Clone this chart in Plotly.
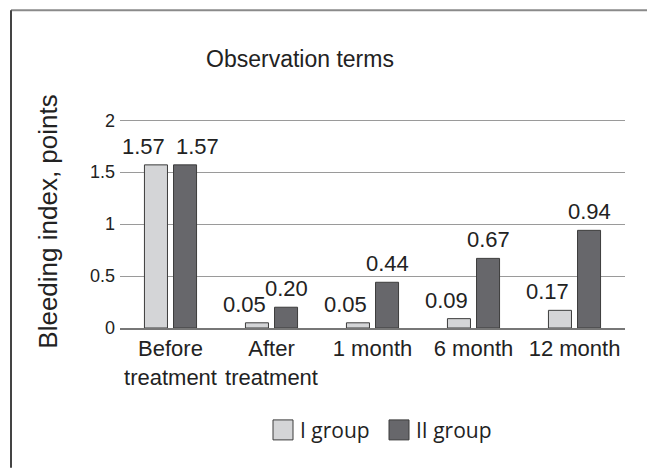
import plotly.graph_objects as go

# Observation terms and bleeding index per group
categories = ["Before<br>treatment", "After<br>treatment", "1 month", "6 month", "12 month"]
group_i = [1.57, 0.05, 0.05, 0.09, 0.17]
group_ii = [1.57, 0.20, 0.44, 0.67, 0.94]
series_names = ["I group", "II group"]
y_ticks = [0, 0.5, 1, 1.5, 2]
y_tick_labels = ["0", "0.5", "1", "1.5", "2"]

FONT = "Liberation Sans, Arial, sans-serif"
TXT = "#222222"
LIGHT = "#d4d5d7"
DARK = "#67676b"
EDGE = "#3c3c3c"

# plot-area geometry in pixels (used for paper-coordinate helpers)
W, H = 647, 468
PX_L, PX_R = 120, 625
PY_ZERO, PX_PER_UNIT = 328, 104
Y_MAX = 2.05
PY_TOP = PY_ZERO - Y_MAX * PX_PER_UNIT


def px_x(px):
    return (px - PX_L) / (PX_R - PX_L)


def px_y(py):
    return (PY_ZERO - py) / (PY_ZERO - PY_TOP)


BAR_W = 0.228
GAP = 0.06
x_idx = list(range(len(categories)))

fig = go.Figure()
fig.add_trace(go.Bar(
    x=x_idx, y=group_i, name=series_names[0], width=BAR_W, offset=-GAP / 2 - BAR_W,
    marker=dict(color=LIGHT, line=dict(color=EDGE, width=1)), showlegend=False,
))
fig.add_trace(go.Bar(
    x=x_idx, y=group_ii, name=series_names[1], width=BAR_W, offset=GAP / 2,
    marker=dict(color=DARK, line=dict(color=EDGE, width=1)), showlegend=False,
))

# value labels above bars
lab_font = dict(family=FONT, size=22, color=TXT)
annotations = []
for i, (a, b) in enumerate(zip(group_i, group_ii)):
    annotations.append(dict(
        x=i - GAP / 2, y=a, xref="x", yref="y", text=f"{a:.2f}", showarrow=False,
        xanchor="right", yanchor="bottom", yshift=4, font=lab_font,
    ))
    same_height = abs(a - b) < 0.1
    annotations.append(dict(
        x=(i + GAP / 2) if same_height else (i + GAP / 2 + BAR_W / 2), y=b, xref="x", yref="y",
        text=f"{b:.2f}", showarrow=False, xanchor="left" if same_height else "center",
        yanchor="bottom", yshift=4, font=lab_font,
    ))

# chart title
annotations.append(dict(
    x=px_x(300), y=px_y(59), xref="paper", yref="paper",
    text="Observation terms", showarrow=False, xanchor="center", yanchor="middle",
    font=dict(family=FONT, size=23, color=TXT),
))

# legend
leg_font = dict(family="Open Sans, Liberation Sans, sans-serif", size=21, color=TXT)
shapes = []
legend_items = [(273, LIGHT, series_names[0]), (389, DARK, series_names[1])]
for px, col, name in legend_items:
    shapes.append(dict(
        type="rect", xref="paper", yref="paper",
        x0=px_x(px), x1=px_x(px + 20), y0=px_y(440), y1=px_y(420),
        fillcolor=col, line=dict(color=EDGE, width=1),
    ))
    annotations.append(dict(
        x=px_x(px + 25), y=px_y(430), xref="paper", yref="paper",
        text=name, showarrow=False, xanchor="left", yanchor="middle", font=leg_font,
    ))

# outer frame (top and left edges)
shapes.append(dict(type="line", xref="paper", yref="paper",
                   x0=px_x(11), x1=px_x(W), y0=px_y(10), y1=px_y(10),
                   line=dict(color="#8a8a8a", width=2)))
shapes.append(dict(type="line", xref="paper", yref="paper",
                   x0=px_x(11), x1=px_x(11), y0=px_y(10), y1=px_y(H),
                   line=dict(color="#444444", width=2)))

fig.update_layout(
    width=W, height=H,
    margin=dict(l=PX_L, r=W - PX_R, t=PY_TOP, b=H - PY_ZERO, pad=0),
    paper_bgcolor="white", plot_bgcolor="white",
    font=dict(family=FONT, color=TXT),
    annotations=annotations, shapes=shapes,
    showlegend=False,
)
fig.update_xaxes(
    range=[-0.5, 4.5], tickvals=x_idx, ticktext=categories,
    tickfont=dict(family=FONT, size=22, color=TXT),
    showgrid=False, showline=True, linecolor="#777777", linewidth=2,
    ticks="", zeroline=False, fixedrange=True,
)
fig.update_yaxes(
    range=[0, Y_MAX], tickvals=y_ticks, ticktext=y_tick_labels,
    tickfont=dict(family=FONT, size=18, color=TXT),
    showgrid=True, gridcolor="#9a9a9a", gridwidth=1, zeroline=False,
    ticks="", ticklabelstandoff=4,
    title=dict(text="Bleeding index, points", font=dict(family=FONT, size=26, color=TXT), standoff=24),
    fixedrange=True,
)

fig.write_html("out.html", config={"displayModeBar": False})
